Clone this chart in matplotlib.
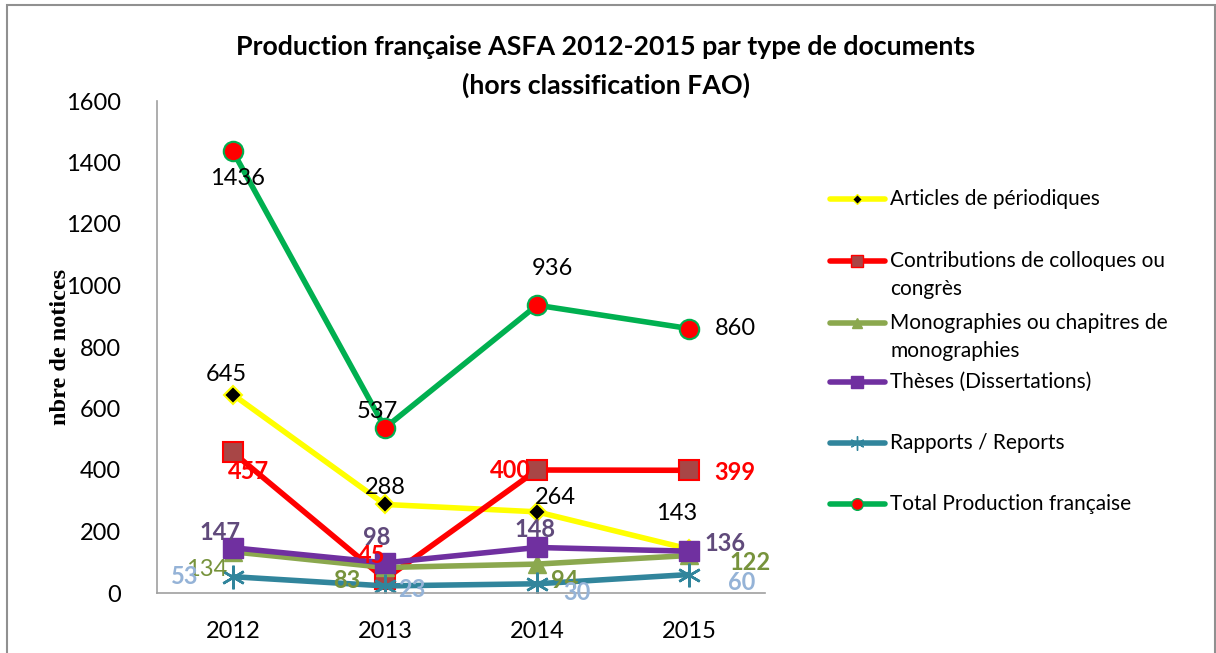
import matplotlib.pyplot as plt
import numpy as np
from matplotlib.lines import Line2D
from matplotlib.patches import Rectangle

plt.rcParams["font.family"] = ["Lato", "DejaVu Sans"]

# --- Data --- #
years = ["2012", "2013", "2014", "2015"]
articles = [645, 288, 264, 143]
contributions = [457, 45, 400, 399]
monographies = [134, 83, 94, 122]
theses = [147, 98, 148, 136]
rapports = [53, 23, 30, 60]
total = [1436, 537, 936, 860]

labels = [
    "Articles de périodiques",
    "Contributions de colloques ou\ncongrès",
    "Monographies ou chapitres de\nmonographies",
    "Thèses (Dissertations)",
    "Rapports / Reports",
    "Total Production française",
]
series = [articles, contributions, monographies, theses, rapports, total]

# --- Styles --- #
styles = [
    dict(color="#FFFF00", marker="D", ms=9, mfc="black", mec="#FFFF00", mew=1.5),
    dict(color="#FF0000", marker="s", ms=14, mfc="#A84646", mec="#FF0000", mew=1.5),
    dict(color="#8BA84E", marker="^", ms=13, mfc="#8BA84E", mec="#8BA84E", mew=1),
    dict(color="#7030A0", marker="s", ms=14, mfc="#7030A0", mec="#7030A0", mew=1),
    dict(color="#31859C", marker=(6, 2, 0), ms=17, mfc="#31859C", mec="#31859C", mew=1.8),
    dict(color="#00B050", marker="o", ms=14, mfc="#FF0000", mec="#00B050", mew=1.5),
]
label_colors = ["black", "#FF0000", "#77933C", "#604A7B", "#95B3D7", "black"]
label_weights = ["normal", "bold", "bold", "bold", "bold", "normal"]
# data label offsets in pixels (dx, dy) for each point
offsets = [
    [(-7, 20), (0, 17), (18, 14), (-12, 36)],
    [(15, -19), (-13, 24), (-27, 0), (46, -2)],
    [(-26, -18), (-38, -13), (28, -16), (61, -7)],
    [(-13, 15), (-8, 25), (-2, 18), (36, 8)],
    [(-48, 0), (27, -4), (40, -9), (53, -8)],
    [(5, -27), (-8, 16), (15, 37), (46, 0)],
]

fig = plt.figure(figsize=(12.16, 6.53), dpi=100)
ax = fig.add_axes([157 / 1216, 1 - 593 / 653, 608 / 1216, 492 / 653])

x = np.arange(len(years))
handles = []
for vals, st, lab in zip(series, styles, labels):
    (h,) = ax.plot(x, vals, lw=4, solid_capstyle="round", **st)
    handles.append(h)

for vals, offs, col, w in zip(series, offsets, label_colors, label_weights):
    for xi, v, (dx, dy) in zip(x, vals, offs):
        ww = w
        if vals is monographies and xi == 0:
            ww = "normal"
        ax.annotate(str(v), (xi, v), xytext=(dx, dy), textcoords="offset pixels",
                    ha="center", va="center", fontsize=17, color=col, fontweight=ww,
                    zorder=10)

ax.set_xlim(-0.5, 3.5)
ax.set_ylim(0, 1600)
ax.set_yticks(np.arange(0, 1601, 200))
ax.set_xticks(x, years)
ax.tick_params(length=0, labelsize=17, pad=20)
ax.tick_params(axis="y", pad=26)
for s in ["top", "right"]:
    ax.spines[s].set_visible(False)
for s in ["left", "bottom"]:
    ax.spines[s].set_color("#A0A0A0")
    ax.spines[s].set_linewidth(1.2)

ax.set_ylabel("nbre de notices", family="Liberation Serif", fontweight="bold",
              fontsize=17.5)
ax.yaxis.set_label_coords(-0.142, 0.5)

fig.text(0.498, 1 - 47 / 653, "Production française ASFA 2012-2015 par type de documents",
         ha="center", va="center", fontsize=19.3, fontweight="bold")
fig.text(0.498, 1 - 85 / 653, "(hors classification FAO)",
         ha="center", va="center", fontsize=19.3, fontweight="bold")

# --- Legend drawn by hand --- #
leg_y = [199, 261, 323, 382, 443, 504]
for h, lab, yy in zip(handles, labels, leg_y):
    yf = 1 - yy / 653
    ln = Line2D([830 / 1216, 885 / 1216], [yf, yf], transform=fig.transFigure,
                color=h.get_color(), lw=4, solid_capstyle="round")
    fig.add_artist(ln)
    mk = Line2D([857.5 / 1216], [yf], transform=fig.transFigure, marker=h.get_marker(),
                ms=h.get_markersize() * 0.6, mfc=h.get_markerfacecolor(),
                mec=h.get_markeredgecolor(), mew=1, ls="none")
    fig.add_artist(mk)
    for k, line in enumerate(lab.split("\n")):
        fig.text(890 / 1216, 1 - (yy + 28 * k) / 653, line, ha="left", va="center",
                 fontsize=15)

fig.add_artist(Rectangle((7 / 1216, -0.1), 1208 / 1216, 1.1 - 5 / 653, transform=fig.transFigure,
                         fill=False, ec="#909090", lw=1.5, clip_on=False))

fig.savefig("out.png", dpi=100)
